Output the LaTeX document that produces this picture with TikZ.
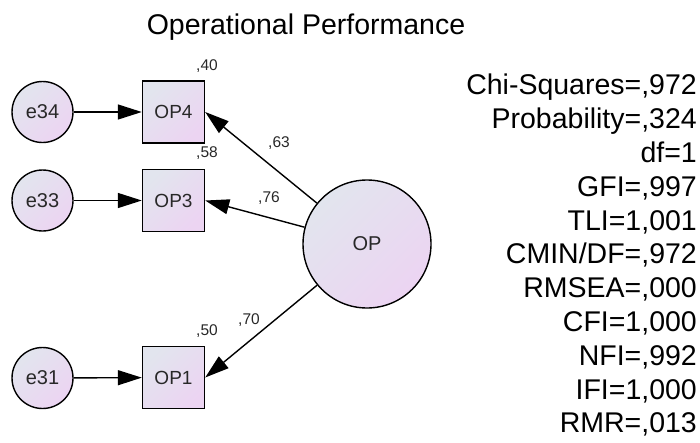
\documentclass[tikz,border=0pt]{standalone}
\usepackage{fontspec}
\setmainfont{Liberation Sans}
\usetikzlibrary{arrows.meta}

\definecolor{shadeA}{RGB}{226,229,238}
\definecolor{shadeB}{RGB}{236,212,242}
\definecolor{labelgray}{RGB}{40,40,40}

\tikzset{
  gradfill/.style={top color=shadeA, bottom color=shadeB, shading angle=45},
  errvar/.style={circle, draw, line width=1.4pt, gradfill, minimum size=61pt, inner sep=0pt,
    font=\fontsize{20}{22}\selectfont, text=labelgray},
  obsvar/.style={rectangle, draw, line width=1.4pt, gradfill, minimum size=62pt, inner sep=0pt,
    font=\fontsize{19}{22}\selectfont, text=labelgray},
  latvar/.style={circle, draw, line width=1.4pt, gradfill, minimum size=128pt, inner sep=0pt,
    font=\fontsize{20}{22}\selectfont, text=labelgray},
  coef/.style={inner sep=0pt, font=\fontsize{15.5}{18}\selectfont, text=labelgray},
  path/.style={line width=1.4pt, -{Triangle[length=24pt,width=15pt]}},
}

\begin{document}
\begin{tikzpicture}[x=1pt, y=-1pt]
  \useasboundingbox (0,0) rectangle (700,442);

  % title
  \node[anchor=base, inner sep=0pt, font=\fontsize{28.5}{30}\selectfont] (title) at (306,34) {Operational Performance};

  % latent factor
  \node[latvar] (OP) at (367,244) {OP};

  % indicators
  \node[obsvar] (OP4) at (173.5,112) {OP4};
  \node[obsvar] (OP3) at (173.5,200.5) {OP3};
  \node[obsvar] (OP1) at (173.5,377.5) {OP1};

  % error terms
  \node[errvar] (e34) at (42.5,112) {e34};
  \node[errvar] (e33) at (42.5,200.5) {e33};
  \node[errvar] (e31) at (42.5,378) {e31};

  % paths
  \draw[path] (e34) -- (OP4);
  \draw[path] (e33) -- (OP3);
  \draw[path] (e31) -- (OP1);
  \draw[path] (OP) -- (OP4.east);
  \draw[path] (OP) -- (OP3.east);
  \draw[path] (OP) -- (OP1.east);

  % squared multiple correlations
  \node[coef] (r4) at (207,66) {,40};
  \node[coef] (r3) at (207,153) {,58};
  \node[coef] (r1) at (207,331) {,50};

  % standardized loadings
  \node[coef] (l4) at (279,143) {,63};
  \node[coef] (l3) at (269,198) {,76};
  \node[coef] (l1) at (249,320) {,70};

  % fit indices
  \node[anchor=north east, inner sep=0pt, align=right, font=\fontsize{28.5}{33.8}\selectfont] (fit) at (697,74)
    {Chi-Squares=,972\\Probability=,324\\df=1\\GFI=,997\\TLI=1,001\\CMIN/DF=,972\\RMSEA=,000\\CFI=1,000\\NFI=,992\\IFI=1,000\\RMR=,013};
\end{tikzpicture}
\end{document}
